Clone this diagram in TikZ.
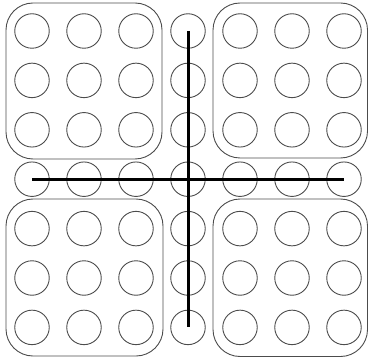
\documentclass[tikz,border=0pt]{standalone}
\begin{document}
\begin{tikzpicture}[x=1pt,y=-1pt,
  dot/.style={circle,draw=black!70,line width=0.9pt,minimum size=34.5pt,inner sep=0pt},
  group/.style={draw=black!70,line width=0.9pt,rounded corners=27pt},
  axis/.style={draw=black,line width=3pt}]
\useasboundingbox (0,0) rectangle (369,358);
\foreach \i in {1,...,7}{
  \foreach \j in {1,...,7}{
    \node[dot] (c-\i-\j) at ({32+52*(\j-1)},{31+49.4*(\i-1)}) {};
  }
}
\draw[group] (6,3) rectangle (162,159);
\draw[group] (213,3) rectangle (367.5,158);
\draw[group] (6,199) rectangle (163,356);
\draw[group] (213,199) rectangle (367.5,356.5);
\draw[axis] (c-4-1.center) -- (c-4-7.center);
\draw[axis] (c-1-4.center) -- (c-7-4.center);
\end{tikzpicture}
\end{document}
